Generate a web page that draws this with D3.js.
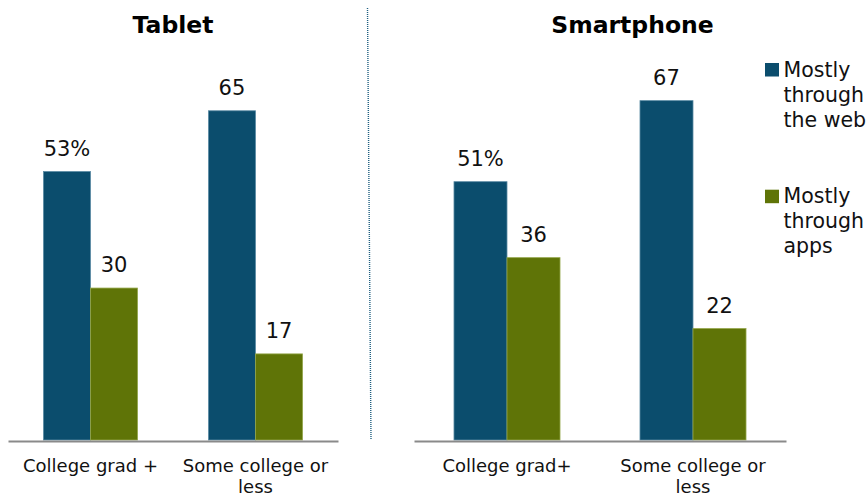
<!DOCTYPE html>
<html>
<head>
<meta charset="utf-8">
<script src="https://cdn.jsdelivr.net/npm/d3@7"></script>
<style>
  html, body { margin: 0; padding: 0; background: #fff; }
  svg { display: block; font-family: "DejaVu Sans", Verdana, sans-serif; }
</style>
</head>
<body>
<svg id="chart" width="866" height="498"></svg>
<script>
// Categories, series and values
const tabletCategories = ["College grad +", "Some college or less"];
const phoneCategories = ["College grad+", "Some college or less"];
const tabletTickLines = [["College grad +"], ["Some college or", "less"]];
const phoneTickLines = [["College grad+"], ["Some college or", "less"]];
const seriesNames = ["Mostly through the web", "Mostly through apps"];
const legendLines = [["Mostly", "through", "the web"], ["Mostly", "through", "apps"]];
const tabletWeb = [53, 65];
const tabletApps = [30, 17];
const phoneWeb = [51, 67];
const phoneApps = [36, 22];
const panelTitles = ["Tablet", "Smartphone"];

const colors = { "Mostly through the web": "#0b4d6d", "Mostly through apps": "#5f7407" };
const strokes = { "Mostly through the web": "#5a8aa3", "Mostly through apps": "#93a64a" };

const svg = d3.select("#chart");

const y = d3.scaleLinear().domain([0, 80]).range([440, 440 - 5.065 * 80]);

function drawPanel(opts) {
  const { categories, tickLines, web, apps, title, x0, x1, titleX } = opts;
  const g = svg.append("g");
  const xBand = d3.scaleBand().domain(categories).range([x0, x1])
    .paddingInner(0.43).paddingOuter(0.215);
  const xSeries = d3.scaleBand().domain(seriesNames).range([0, xBand.bandwidth()]);

  const rows = categories.map((c, i) => ({
    cat: c,
    vals: [
      { s: seriesNames[0], v: web[i], label: i === 0 ? web[i] + "%" : String(web[i]) },
      { s: seriesNames[1], v: apps[i], label: String(apps[i]) }
    ]
  }));

  const groups = g.selectAll("g.cat").data(rows).join("g")
    .attr("class", "cat")
    .attr("transform", d => `translate(${xBand(d.cat)},0)`);

  groups.selectAll("rect").data(d => d.vals).join("rect")
    .attr("x", d => xSeries(d.s))
    .attr("y", d => y(d.v))
    .attr("width", xSeries.bandwidth())
    .attr("height", d => y(0) - y(d.v))
    .attr("fill", d => colors[d.s])
    .attr("stroke", d => strokes[d.s])
    .attr("stroke-width", 0.8);

  groups.selectAll("text.val").data(d => d.vals).join("text")
    .attr("class", "val")
    .attr("x", d => xSeries(d.s) + xSeries.bandwidth() / 2)
    .attr("y", d => y(d.v) - 16)
    .attr("text-anchor", "middle")
    .attr("font-size", 21)
    .attr("fill", "#111")
    .text(d => d.label);

  // Category axis along the baseline
  const axis = g.append("g")
    .attr("transform", `translate(0,${y(0) + 1})`)
    .call(d3.axisBottom(xBand).tickSize(0).tickSizeOuter(0));
  axis.select(".domain").attr("stroke", "#8a8a8a").attr("stroke-width", 2);
  axis.selectAll(".tick text").each(function(d, i) {
    const t = d3.select(this);
    t.text(null).attr("y", 0).attr("dy", null)
      .attr("font-size", 18).attr("fill", "#111")
      .attr("font-family", "DejaVu Sans, Verdana, sans-serif");
    tickLines[i].forEach((line, j) => {
      t.append("tspan").attr("x", 0).attr("y", 30.7 + j * 21).text(line);
    });
  });

  g.append("text")
    .attr("x", titleX)
    .attr("y", 33)
    .attr("text-anchor", "middle")
    .attr("font-size", 23.5)
    .attr("font-weight", "bold")
    .attr("fill", "#000")
    .text(title);
}

drawPanel({ categories: tabletCategories, tickLines: tabletTickLines, web: tabletWeb, apps: tabletApps,
  title: panelTitles[0], x0: 8, x1: 338, titleX: 173 });
drawPanel({ categories: phoneCategories, tickLines: phoneTickLines, web: phoneWeb, apps: phoneApps,
  title: panelTitles[1], x0: 414, x1: 786, titleX: 632.5 });

// Dotted divider between the two panels
svg.append("line")
  .attr("x1", 367.5).attr("y1", 8)
  .attr("x2", 371).attr("y2", 440)
  .attr("stroke", "#1f5f80")
  .attr("stroke-width", 1.4)
  .attr("stroke-dasharray", "1,1");

// Legend
const legend = svg.append("g").selectAll("g").data(seriesNames).join("g")
  .attr("transform", (d, i) => `translate(765,${63 + i * 126.7})`);
legend.append("rect")
  .attr("width", 14).attr("height", 13.5)
  .attr("fill", d => colors[d]);
legend.each(function(d, i) {
  const t = d3.select(this).append("text")
    .attr("font-size", 20.5).attr("fill", "#111");
  legendLines[i].forEach((line, j) => {
    t.append("tspan").attr("x", 18.5).attr("y", 13.7 + j * 25).text(line);
  });
});
</script>
</body>
</html>
